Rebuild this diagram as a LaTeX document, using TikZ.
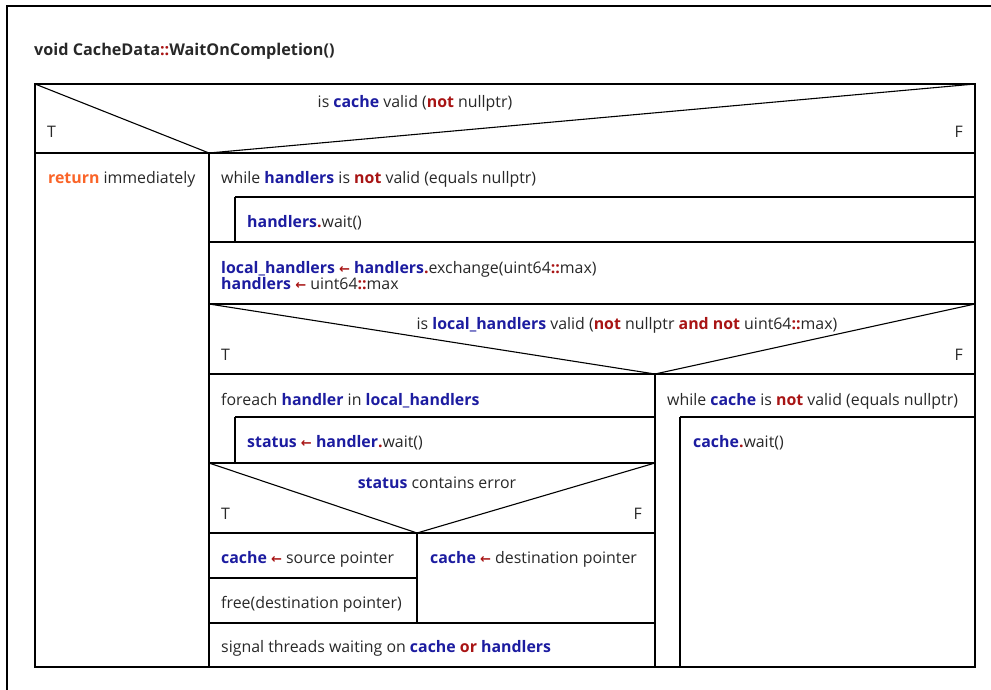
\documentclass[tikz,border=0pt]{standalone}
\usepackage{fontspec}
\setmainfont{Open Sans}
\newfontfamily\arrfont{DejaVu Sans}
\definecolor{nsblue}{RGB}{28,28,160}
\definecolor{nsred}{RGB}{168,20,20}
\definecolor{nsorange}{RGB}{250,100,40}
\definecolor{nstext}{RGB}{40,40,40}
\newcommand\nsvar[1]{\textbf{\color{nsblue}#1}}
\newcommand\nsop[1]{\textbf{\color{nsred}#1}}
\newcommand\nsarr{{\color{nsred}\arrfont\bfseries\fontsize{13}{12}\selectfont ←}}
\newcommand\nsdot{{\color{nsred}\textbf{.}}}
\newcommand\nsdc{{\color{nsred}\textbf{::}}}
\begin{document}
\begin{tikzpicture}[x=1pt,y=-1pt,
  ln/.style={line width=1.1pt,black},
  txt/.style={anchor=base west,inner sep=0pt,text=nstext,font=\fontsize{15.9}{18}\selectfont},
  ctxt/.style={anchor=base,inner sep=0pt,text=nstext,font=\fontsize{15.9}{18}\selectfont}]
\useasboundingbox (0,0) rectangle (991,690);
% window frame (partly cut)
\draw[line width=1.1pt] (7,690) -- (7,6) -- (991,6);
% title
\node[txt,font=\fontsize{16.2}{18}\selectfont\bfseries] (title) at (34,56) {void CacheData\nsdc WaitOnCompletion()};
% main box
\draw[ln] (35,84) rectangle (975,667);
% decision 1
\draw[ln] (35,84) -- (209,153) -- (975,84);
\draw[ln] (35,153) -- (975,153);
\draw[ln] (209,153) -- (209,667);
\node[ctxt] (d1) at (415,108) {is \nsvar{cache} valid (\nsop{not} nullptr)};
\node[txt] (d1t) at (47,138) {T};
\node[txt,anchor=base east] (d1f) at (963,138) {F};
% left: return
\node[txt] (ret) at (48,184) {\textbf{\color{nsorange}return} immediately};
% while handlers
\node[txt] (w1) at (221,184) {while \nsvar{handlers} is \nsop{not} valid (equals nullptr)};
\draw[ln] (235,197) -- (975,197);
\draw[ln] (235,197) -- (235,242);
\draw[ln] (209,242) -- (975,242);
\node[txt] (hw) at (247,227) {\nsvar{handlers}\nsdot wait()};
% assignment
\node[txt] (a1) at (221,273) {\nsvar{local\_handlers} \nsarr{} \nsvar{handlers}\nsdot exchange(uint64\nsdc max)};
\node[txt] (a2) at (221,289) {\nsvar{handlers} \nsarr{} uint64\nsdc max};
\draw[ln] (209,304) -- (975,304);
% decision 2
\draw[ln] (209,304) -- (655,374) -- (975,304);
\draw[ln] (209,374) -- (975,374);
\draw[ln] (655,374) -- (655,667);
\node[ctxt] (d2) at (627,329) {is \nsvar{local\_handlers} valid (\nsop{not} nullptr \nsop{and not} uint64\nsdc max)};
\node[txt] (d2t) at (221,360) {T};
\node[txt,anchor=base east] (d2f) at (963,360) {F};
% foreach
\node[txt] (fe) at (221,405) {foreach \nsvar{handler} in \nsvar{local\_handlers}};
\draw[ln] (235,417) -- (655,417);
\draw[ln] (235,417) -- (235,463);
\draw[ln] (209,463) -- (655,463);
\node[txt] (st) at (247,447) {\nsvar{status} \nsarr{} \nsvar{handler}\nsdot wait()};
% decision 3
\draw[ln] (209,463) -- (417,533) -- (655,463);
\draw[ln] (209,533) -- (655,533);
\draw[ln] (417,533) -- (417,623);
\draw[ln] (209,578) -- (417,578);
\draw[ln] (209,623) -- (655,623);
\node[ctxt] (d3) at (437,488) {\nsvar{status} contains error};
\node[txt] (d3t) at (221,519) {T};
\node[txt,anchor=base east] (d3f) at (642,519) {F};
\node[txt] (cs) at (221,563) {\nsvar{cache} \nsarr{} source pointer};
\node[txt] (fr) at (221,608) {free(destination pointer)};
\node[txt] (cd) at (430,563) {\nsvar{cache} \nsarr{} destination pointer};
\node[txt] (sig) at (221,652) {signal threads waiting on \nsvar{cache} \nsop{or} \nsvar{handlers}};
% while cache
\node[txt] (w2) at (667,405) {while \nsvar{cache} is \nsop{not} valid (equals nullptr)};
\draw[ln] (680,417) -- (975,417);
\draw[ln] (680,417) -- (680,667);
\node[txt] (cw) at (693,447) {\nsvar{cache}\nsdot wait()};
\end{tikzpicture}
\end{document}
